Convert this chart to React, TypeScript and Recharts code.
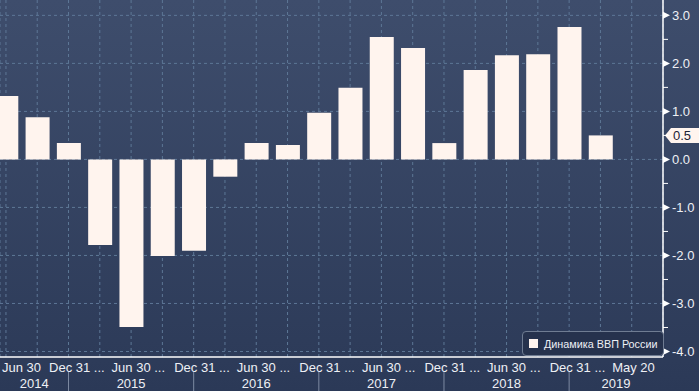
import React from 'react';
import {
	Bar,
	BarChart,
	CartesianGrid,
	Legend,
	ReferenceLine,
	XAxis,
	YAxis,
} from 'recharts';

// quarterly GDP growth, y/y %
const quarters = [
	'2014 Q2', '2014 Q3', '2014 Q4',
	'2015 Q1', '2015 Q2', '2015 Q3', '2015 Q4',
	'2016 Q1', '2016 Q2', '2016 Q3', '2016 Q4',
	'2017 Q1', '2017 Q2', '2017 Q3', '2017 Q4',
	'2018 Q1', '2018 Q2', '2018 Q3', '2018 Q4',
	'2019 Q1',
];
const gdpGrowth = [
	1.32, 0.88, 0.34,
	-1.78, -3.49, -2.01, -1.9,
	-0.36, 0.34, 0.3, 0.97,
	1.49, 2.55, 2.32, 0.34,
	1.86, 2.17, 2.19, 2.76,
	0.5,
];
// one label every second quarter, the last one is the chart date
const xTickLabels = [
	'Jun 30', 'Dec 31 ...', 'Jun 30 ...', 'Dec 31 ...', 'Jun 30 ...', 'Dec 31 ...',
	'Jun 30 ...', 'Dec 31 ...', 'Jun 30 ...', 'Dec 31 ...', 'May 20',
];
const years = ['2014', '2015', '2016', '2017', '2018', '2019'];
const yTicks = [-4, -3.5, -3, -2.5, -2, -1.5, -1, -0.5, 0, 0.5, 1, 1.5, 2, 2.5, 3];
const gridValues = [-4, -3, -2, -1, 0, 1, 2, 3];
const seriesName = 'Динамика ВВП России';

const X_DOMAIN: [number, number] = [-0.19, 21];
const Y_DOMAIN: [number, number] = [-4.115, 3.32];
const FONT = '"Liberation Sans", Arial, sans-serif';
const BAR_COLOR = '#fff4ee';
const TEXT_COLOR = '#eef0f5';

const data = gdpGrowth.map((value, i) => ({ idx: i, quarter: quarters[i], value }));

// Dec 31 positions split the years
const yearEnds = quarters
	.map((q, i) => (q.endsWith('Q4') ? i : -1))
	.filter((i) => i >= 0);
const yearCenters = years.map((_, k) => {
	const start = k === 0 ? X_DOMAIN[0] : yearEnds[k - 1];
	const end = k < yearEnds.length ? yearEnds[k] : X_DOMAIN[1];
	return (Math.max(start, X_DOMAIN[0]) + Math.min(end, X_DOMAIN[1])) / 2;
});

const QuarterTick = (props: any) => {
	const { x, y, payload } = props;
	const i = payload.value;
	const label = i % 2 === 0 ? xTickLabels[i / 2] : undefined;
	const isYearEnd = yearEnds.includes(i);
	return (
		<g>
			{label && (
				<text
					x={Math.max(2, x - 19.5)}
					y={y + 15}
					fill={TEXT_COLOR}
					fontSize={13}
					fontFamily={FONT}
					textAnchor='start'
				>
					{label}
				</text>
			)}
			{isYearEnd && (
				<line x1={x} x2={x} y1={y + 15} y2={y + 34} stroke='#7d8aa2' />
			)}
		</g>
	);
};

const YearTick = (props: any) => {
	const { x, y, index } = props;
	return (
		<text
			x={x}
			y={y + 14}
			fill={TEXT_COLOR}
			fontSize={13}
			fontFamily={FONT}
			textAnchor='middle'
		>
			{years[index]}
		</text>
	);
};

const ValueTick = (props: any) => {
	const { x, y, payload } = props;
	const v = payload.value;
	if (!Number.isInteger(v)) {
		return <line x1={x} x2={x + 5} y1={y} y2={y} stroke='#ffffff' />;
	}
	return (
		<g>
			<polygon
				points={`${x},${y - 3.5} ${x + 7},${y} ${x},${y + 3.5}`}
				fill='#ffffff'
			/>
			<text
				x={x + 9}
				y={y}
				dy={4.5}
				fill={TEXT_COLOR}
				fontSize={13}
				fontFamily={FONT}
				textAnchor='start'
			>
				{v.toFixed(1)}
			</text>
		</g>
	);
};

const lastValue = gdpGrowth[gdpGrowth.length - 1];

const LastValueTag = (props: any) => {
	const { viewBox } = props;
	const x = viewBox.x + viewBox.width + 2;
	const y = viewBox.y;
	return (
		<g>
			<polygon
				points={`${x},${y} ${x + 6},${y - 7.5} ${x + 40},${y - 7.5} ${x + 40},${y + 7.5} ${x + 6},${y + 7.5}`}
				fill={BAR_COLOR}
			/>
			<text
				x={x + 8}
				y={y}
				dy={4.5}
				fill='#1c2336'
				fontSize={13}
				fontFamily={FONT}
			>
				{lastValue.toFixed(1)}
			</text>
		</g>
	);
};

const LegendBox = () => (
	<div
		style={{
			display: 'flex',
			alignItems: 'center',
			boxSizing: 'border-box',
			height: 25,
			padding: '0 6px',
			background: '#26324d',
			border: '1px solid #6f7c92',
			borderRadius: 4,
			fontFamily: FONT,
			fontSize: 10.8,
			color: TEXT_COLOR,
			whiteSpace: 'nowrap',
		}}
	>
		<span
			style={{
				display: 'inline-block',
				flexShrink: 0,
				width: 9,
				height: 9,
				background: BAR_COLOR,
				marginRight: 6,
			}}
		/>
		{seriesName}
	</div>
);

export default function App() {
	return (
		<div
			style={{
				position: 'absolute',
				left: 0,
				top: 0,
				width: 699,
				height: 391,
				background:
					'linear-gradient(to bottom, #3e4d6c 0%, #2d3b59 92%, #2b3957 100%)',
				fontFamily: FONT,
			}}
		>
			<BarChart
				width={699}
				height={391}
				data={data}
				margin={{ top: 0, right: 0, left: 0, bottom: 0 }}
			>
				<CartesianGrid
					stroke='#5d7796'
					strokeDasharray='3 3'
					horizontalValues={gridValues}
				/>
				<XAxis
					type='number'
					dataKey='idx'
					domain={X_DOMAIN}
					allowDataOverflow
					ticks={[...quarters.map((_, i) => i), quarters.length]}
					interval={0}
					height={17}
					tickSize={0}
					tickMargin={0}
					tickLine={false}
					axisLine={{ stroke: '#ffffff', strokeWidth: 1.5 }}
					tick={<QuarterTick />}
				/>
				<XAxis
					xAxisId='year'
					type='number'
					dataKey='idx'
					domain={X_DOMAIN}
					allowDataOverflow
					ticks={yearCenters}
					interval={0}
					height={17}
					tickSize={0}
					tickMargin={0}
					tickLine={false}
					axisLine={false}
					tick={<YearTick />}
				/>
				<YAxis
					orientation='right'
					type='number'
					domain={Y_DOMAIN}
					allowDataOverflow
					ticks={yTicks}
					interval={0}
					width={36}
					tickSize={0}
					tickMargin={0}
					tickLine={false}
					axisLine={{ stroke: '#ffffff', strokeWidth: 1.5 }}
					tick={<ValueTick />}
				/>
				<ReferenceLine
					y={lastValue}
					stroke='none'
					label={(p: any) => <LastValueTag {...p} />}
				/>
				<Legend
					layout='vertical'
					align='center'
					verticalAlign='middle'
					wrapperStyle={{ left: 522, top: 331, width: 'auto', height: 'auto' }}
					content={() => <LegendBox />}
				/>
				<Bar
					dataKey='value'
					name={seriesName}
					fill={BAR_COLOR}
					barSize={24}
					isAnimationActive={false}
				/>
			</BarChart>
		</div>
	);
}
